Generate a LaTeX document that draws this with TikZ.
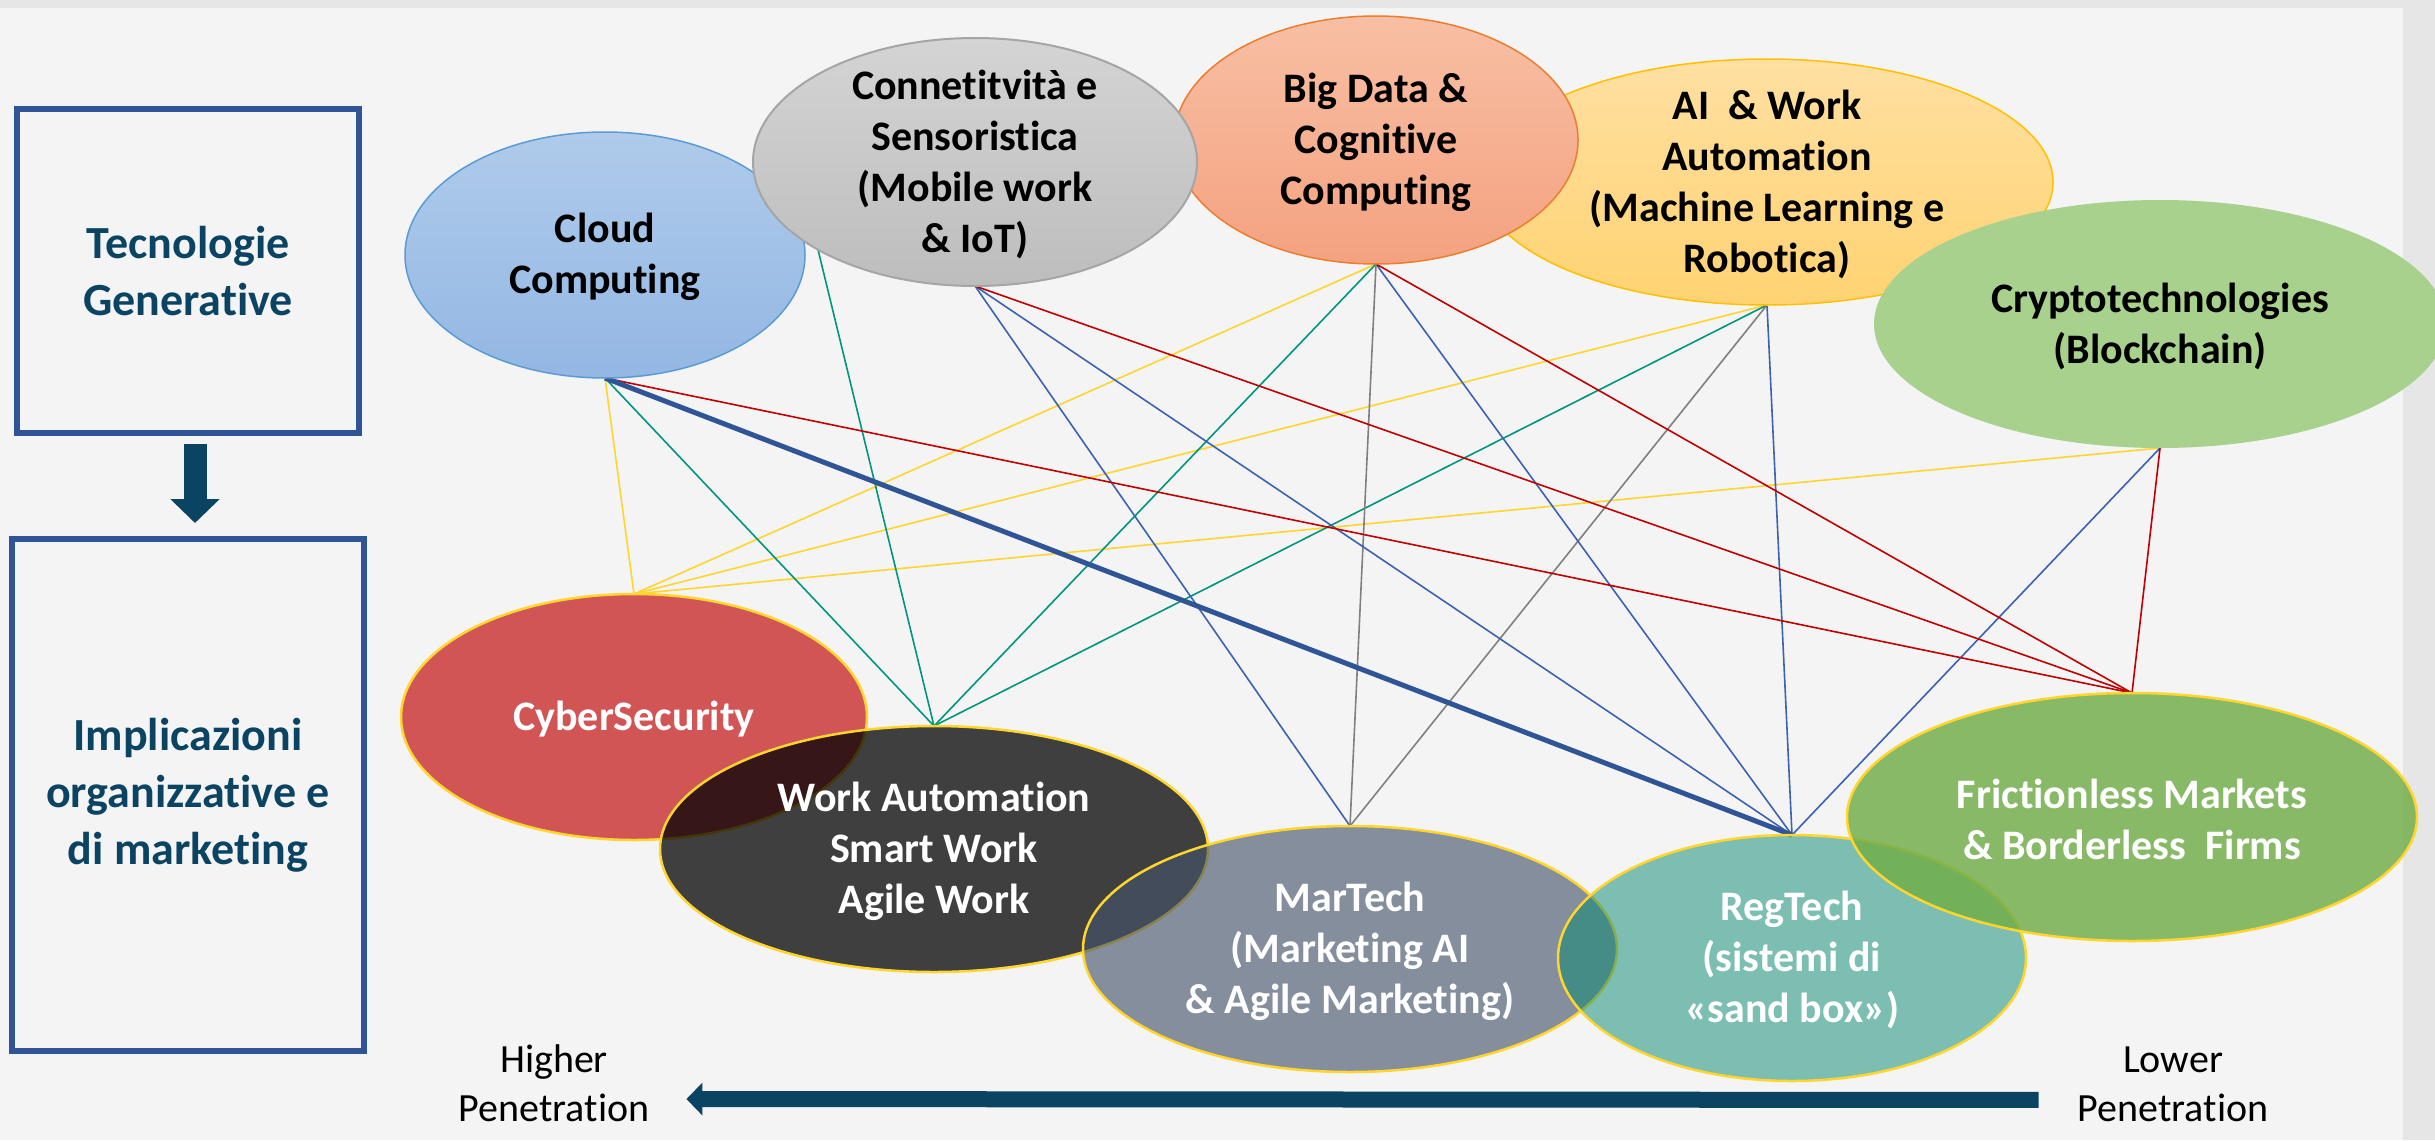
\documentclass[tikz,border=0pt]{standalone}
\usepackage{fontspec}
\setmainfont[Ligatures=NoCommon]{Carlito}
\usetikzlibrary{arrows.meta, % 箭头的library
  shapes.geometric}          % 椭圆

% 颜色
\definecolor{slidebg}{HTML}{F4F4F4}
\definecolor{outerbg}{HTML}{E6E6E6}
\definecolor{boxblue}{HTML}{2F5597}
\definecolor{petrol}{HTML}{0B4462}
\definecolor{cloudtop}{HTML}{AFCBEB}
\definecolor{cloudbot}{HTML}{93B7E3}
\definecolor{cloudedge}{HTML}{5B9BD5}
\definecolor{conntop}{HTML}{D4D4D4}
\definecolor{connbot}{HTML}{BDBDBD}
\definecolor{connedge}{HTML}{A5A5A5}
\definecolor{bigtop}{HTML}{F8BFA4}
\definecolor{bigbot}{HTML}{F4A280}
\definecolor{bigedge}{HTML}{ED7D31}
\definecolor{aitop}{HTML}{FFE0A2}
\definecolor{aibot}{HTML}{FFD372}
\definecolor{aiedge}{HTML}{FFC000}
\definecolor{cryptogreen}{HTML}{A9D18E}
\definecolor{cyberred}{HTML}{C00000}
\definecolor{martechblue}{HTML}{44546A}
\definecolor{regteal}{HTML}{088A72}
\definecolor{fricgreen}{HTML}{70AD47}
\definecolor{lineyellow}{HTML}{FFD52E}
\definecolor{lineteal}{HTML}{00967D}
\definecolor{lineblue}{HTML}{3B62B2}
\definecolor{linegray}{HTML}{808080}
\definecolor{linered}{HTML}{C00000}

\pgfdeclarelayer{back}
\pgfdeclarelayer{wires}
\pgfsetlayers{back,wires,main}

\begin{document}
\begin{tikzpicture}[x=1pt,y=-1pt,
  % 全局的style: 1pt = 1 像素, y 轴向下
  bubble/.style={ellipse,inner sep=0pt,outer sep=0pt},
  top bubble/.style={bubble,line width=1.5pt},
  low bubble/.style={bubble,draw=lineyellow,line width=2.5pt},
  bubble text/.style={font=\bfseries\fontsize{42}{51}\selectfont,align=center,inner sep=0pt,yshift=-2pt},
  box/.style={draw=boxblue,line width=6pt,inner sep=0pt,outer sep=0pt,
    text=petrol,font=\bfseries\fontsize{46}{57}\selectfont,align=center},
  pen text/.style={font=\fontsize{40}{49}\selectfont,align=center,inner sep=0pt},
  wire/.style={line width=1.6pt},
  yel/.style={wire,draw=lineyellow},
  tea/.style={wire,draw=lineteal},
  blu/.style={wire,draw=lineblue},
  gry/.style={wire,draw=linegray},
  rd/.style={wire,draw=linered}]

  \useasboundingbox (0,0) rectangle (2435,1140);

  % 背景
  \begin{pgfonlayer}{back}
    \fill[outerbg] (0,0) rectangle (2435,1140);
    \fill[slidebg] (0,8) rectangle (2403,1140);
  \end{pgfonlayer}

  % 左边的两个框
  \node[box,minimum width=342,minimum height=324] (gen) at (188,271) {Tecnologie\\Generative};
  \node[box,line width=5.5pt,minimum width=352,minimum height=512] (impl) at (188,795)
    {Implicazioni\\organizzative e\\di marketing};
  \draw[petrol,line width=23pt,-{Triangle[length=24pt,width=48pt]},
    shorten <=11pt,shorten >=16pt] ([xshift=7pt]gen.south) -- ([xshift=7pt]impl.north);

  % 上面一排: 技术
  \node[top bubble,draw=aiedge,top color=aitop,bottom color=aibot,
    minimum width=572,minimum height=246] (ai) at (1767,182) {};
  \node[top bubble,draw=bigedge,top color=bigtop,bottom color=bigbot,
    minimum width=404,minimum height=248] (bigdata) at (1376,140) {};
  \node[top bubble,draw=cloudedge,top color=cloudtop,bottom color=cloudbot,
    minimum width=400,minimum height=246] (cloud) at (605,255) {};
  \node[top bubble,draw=connedge,line width=2pt,top color=conntop,bottom color=connbot,
    minimum width=444,minimum height=248] (conn) at (975,162) {};
  \node[bubble,fill=cryptogreen,minimum width=572,minimum height=248] (crypto) at (2160,324) {};

  \node[bubble text] (ai-t) at (ai) {AI\ \ \& Work\\Automation\\(Machine Learning e\\Robotica)};
  \node[bubble text] (bigdata-t) at (bigdata) {Big Data \&\\Cognitive\\Computing};
  \node[bubble text] (cloud-t) at (cloud) {Cloud\\Computing};
  \node[bubble text] (conn-t) at (conn) {Connetitvità e\\Sensoristica\\(Mobile work\\\& IoT)};
  \node[bubble text] (crypto-t) at (crypto) {Cryptotechnologies\\(Blockchain)};

  % 下面一排: 实施的含义 (半透明)
  \node[low bubble,fill=cyberred,fill opacity=.65,minimum width=466,minimum height=246] (cyber) at (634,717) {};
  \node[low bubble,fill=black,fill opacity=.74,minimum width=548,minimum height=246] (wa) at (934,849) {};
  \node[low bubble,fill=martechblue,fill opacity=.63,minimum width=534,minimum height=246] (martech) at (1350,949) {};
  \node[low bubble,fill=regteal,fill opacity=.5,minimum width=468,minimum height=246] (regtech) at (1792,958) {};
  \node[low bubble,fill=fricgreen,fill opacity=.82,minimum width=570,minimum height=248] (fric) at (2132,817) {};

  \node[bubble text,text=white] (cyber-t) at (cyber) {CyberSecurity};
  \node[bubble text,text=white] (wa-t) at (wa) {Work Automation\\Smart Work\\Agile Work};
  \node[bubble text,text=white] (martech-t) at (martech) {MarTech\\(Marketing AI\\\& Agile Marketing)};
  \node[bubble text,text=white] (regtech-t) at (regtech) {RegTech\\(sistemi di\\«sand box»)};
  \node[bubble text,text=white] (fric-t) at (fric) {Frictionless Markets\\\& Borderless\ \ Firms};

  % 连线, 在椭圆的下面
  \begin{pgfonlayer}{wires}
    \path (cyber.north) edge[yel] (cloud.south)
      edge[yel] (bigdata.south)
      edge[yel] (ai.south)
      edge[yel] (crypto.south);
    \path (wa.north) edge[tea] (cloud.south)
      edge[tea] (conn.south west)
      edge[tea] (bigdata.south)
      edge[tea] (ai.south);
    \path (martech.north) edge[blu] (conn.south)
      edge[gry] (bigdata.south)
      edge[gry] (ai.south);
    \path (regtech.north) edge[blu] (conn.south)
      edge[blu] (bigdata.south)
      edge[blu] (ai.south)
      edge[blu] (crypto.south);
    \path (fric.north) edge[rd] (cloud.south)
      edge[rd] (conn.south)
      edge[rd] (bigdata.south)
      edge[rd] (crypto.south);
    \draw[boxblue,line width=5pt] (cloud.south) -- (regtech.north);
  \end{pgfonlayer}

  % 渗透度的箭头
  \node[pen text] (higher) at (554,1083) {Higher\\Penetration};
  \node[pen text] (lower) at (2173,1084) {Lower\\Penetration};
  \draw[petrol,line width=16pt,-{Triangle[length=16pt,width=32pt]},
    shorten <=39pt,shorten >=37pt] ([yshift=-16pt]lower.west) -- ([yshift=-16pt]higher.east);
\end{tikzpicture}
\end{document}
